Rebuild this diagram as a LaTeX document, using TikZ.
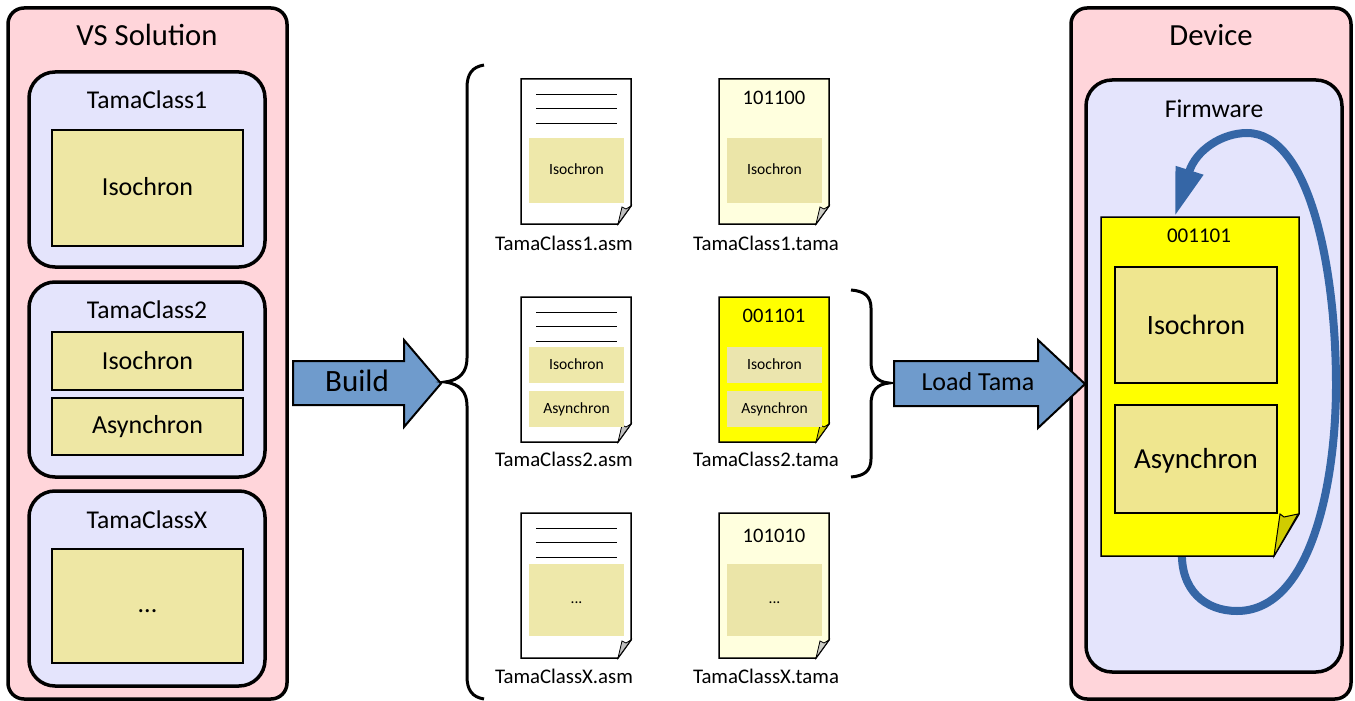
\documentclass[tikz,border=0pt]{standalone}
\usepackage{fontspec}
\setmainfont{Carlito}
\usetikzlibrary{arrows.meta}

\definecolor{outerpink}{HTML}{FFD5DA}
\definecolor{innerblue}{HTML}{E4E4FC}
\definecolor{khakibox}{HTML}{EEE7A4}
\definecolor{firmbox}{HTML}{EFE68F}
\definecolor{chunkbox}{HTML}{EEE8AA}
\definecolor{palebox}{HTML}{EBE5A8}
\definecolor{softbox}{HTML}{EBE5AE}
\definecolor{paletama}{HTML}{FFFFDE}
\definecolor{puretama}{HTML}{FFFF00}
\definecolor{foldtama}{HTML}{D0CC00}
\definecolor{arrowblue}{HTML}{6F9BCC}
\definecolor{loopblue}{HTML}{3566A6}

% #1 left, #2 top, #3 page colour, #4 fold colour
\newcommand{\docpage}[4]{
	\draw[line width=1.5pt, fill=#3, line join=miter]
		(#1, #2) -- (#1+110, #2) -- (#1+110, #2+127) -- (#1+97, #2+145) -- (#1, #2+145) -- cycle;
	\draw[line width=0.8pt, fill=#4]
		(#1+97, #2+145) -- (#1+101, #2+128) -- (#1+105, #2+130) -- (#1+110, #2+127) -- cycle;
}
\newcommand{\doclines}[2]{
	\draw[line width=1pt] (#1+15, #2+15) -- (#1+96, #2+15);
	\draw[line width=1pt] (#1+15, #2+29) -- (#1+96, #2+29);
	\draw[line width=1pt] (#1+15, #2+44) -- (#1+96, #2+44);
}

\begin{document}
\begin{tikzpicture}[x=1pt, y=-1pt,
	outerbox/.style={draw, line width=3.5pt, fill=outerpink, rounded corners=16pt, inner sep=0pt},
	innerbox/.style={draw, line width=3.5pt, fill=innerblue, rounded corners=26pt, inner sep=0pt},
	classbox/.style={draw, line width=2pt, fill=khakibox, inner sep=0pt, font=\fontsize{26}{30}\selectfont},
	chunk/.style={fill=#1, inner sep=0pt, minimum width=95pt, font=\fontsize{15.6}{18}\selectfont},
	chunk/.default=chunkbox,
	title/.style={font=\fontsize{30.7}{36}\selectfont},
	classname/.style={font=\fontsize{25.6}{30}\selectfont},
	filename/.style={font=\fontsize{20.8}{25}\selectfont},
	bits/.style={font=\fontsize{20.6}{25}\selectfont},
	blockarrow/.style={draw, line width=2pt, fill=arrowblue, line join=miter}
]
\useasboundingbox (0, 0) rectangle (1355, 701);

\node[outerbox, minimum width=279pt, minimum height=691pt] (solution) at (147.5, 353.5) {};
\node[title] (solutionname) at (147, 35) {VS Solution};

\node[innerbox, minimum width=236pt, minimum height=195pt] (class1) at (147, 169.5) {};
\node[classname] (class1name) at (147, 100) {TamaClass1};
\node[classbox, minimum width=191pt, minimum height=116pt] (class1iso) at (147.5, 188) {\raisebox{4pt}{Isochron}};

\node[innerbox, minimum width=236pt, minimum height=195pt] (class2) at (147, 379.5) {};
\node[classname] (class2name) at (147, 309.5) {TamaClass2};
\node[classbox, minimum width=191pt, minimum height=58pt] (class2iso) at (147.5, 361) {\raisebox{2pt}{Isochron}};
\node[classbox, minimum width=191pt, minimum height=57pt] (class2asy) at (147.5, 426.5) {Asynchron};

\node[innerbox, minimum width=236pt, minimum height=195pt] (classx) at (147, 588.5) {};
\node[classname] (classxname) at (147, 520) {TamaClassX};
\node[classbox, minimum width=191pt, minimum height=114pt] (classxdots) at (147.5, 606) {\smash{\raisebox{-6pt}{...}}};

\draw[blockarrow] (293, 361) -- (404, 361) -- (404, 340) -- (441, 383.5) -- (404, 427) -- (404, 405) -- (293, 405) -- cycle;
\node[font=\fontsize{31}{36}\selectfont] (buildname) at (357, 381) {Build};

\draw[line width=3pt] (484, 65) .. controls (472, 67) and (467, 74) .. (467, 88) -- (467, 358)
	.. controls (467, 372) and (460, 380) .. (445, 382)
	.. controls (460, 384) and (467, 392) .. (467, 406) -- (467, 676)
	.. controls (467, 690) and (472, 697) .. (484, 699);

\docpage{521}{79}{white}{lightgray}
\doclines{521}{79}
\node[chunk, minimum height=65pt] (asm1iso) at (576.5, 170.5) {\raisebox{2pt}{Isochron}};
\node[filename] (asm1name) at (564, 243) {TamaClass1.asm};

\docpage{719}{79}{paletama}{lightgray!80!paletama}
\node[bits] (tama1bits) at (774, 98) {101100};
\node[chunk=palebox, minimum height=65pt] (tama1iso) at (774.5, 170.5) {\raisebox{2pt}{Isochron}};
\node[filename] (tama1name) at (766, 243) {TamaClass1.tama};

\docpage{521}{297}{white}{lightgray}
\doclines{521}{297}
\node[chunk, minimum height=36pt] (asm2iso) at (576.5, 365) {\raisebox{1pt}{Isochron}};
\node[chunk, minimum height=36pt] (asm2asy) at (576.5, 409) {\raisebox{1pt}{Asynchron}};
\node[filename] (asm2name) at (564, 459.5) {TamaClass2.asm};

\docpage{719}{297}{puretama}{foldtama}
\node[bits] (tama2bits) at (774, 316) {001101};
\node[chunk=softbox, minimum height=36pt] (tama2iso) at (774.5, 365) {\raisebox{1pt}{Isochron}};
\node[chunk=softbox, minimum height=36pt] (tama2asy) at (774.5, 409) {\raisebox{1pt}{Asynchron}};
\node[filename] (tama2name) at (766, 459.5) {TamaClass2.tama};

\docpage{521}{513}{white}{lightgray}
\doclines{521}{513}
\node[chunk, minimum height=72pt] (asmxdots) at (576.5, 600) {\smash{\raisebox{-3pt}{...}}};
\node[filename] (asmxname) at (564, 676) {TamaClassX.asm};

\docpage{719}{513}{paletama}{lightgray!80!paletama}
\node[bits] (tamaxbits) at (774, 536) {101010};
\node[chunk=palebox, minimum height=72pt] (tamaxdots) at (774.5, 600) {\smash{\raisebox{-3pt}{...}}};
\node[filename] (tamaxname) at (766, 676) {TamaClassX.tama};

\draw[line width=3pt] (851, 290) .. controls (864, 291) and (871, 296) .. (871, 308) -- (871, 362)
	.. controls (871, 375) and (877, 382) .. (889, 383)
	.. controls (877, 384) and (871, 391) .. (871, 404) -- (871, 459)
	.. controls (871, 471) and (864, 476) .. (851, 477);

\node[outerbox, minimum width=280pt, minimum height=691pt] (device) at (1211, 353.5) {};
\node[title] (devicename) at (1211, 35) {Device};
\node[innerbox, minimum width=256pt, minimum height=592pt] (firmware) at (1214, 376) {};
\node[classname] (firmwarename) at (1214, 109) {Firmware};

\draw[blockarrow] (894, 361) -- (1038, 361) -- (1038, 340) -- (1085, 384) -- (1038, 428) -- (1038, 406) -- (894, 406) -- cycle;
\node[font=\fontsize{26}{30}\selectfont] (loadname) at (978, 382) {Load Tama};

\coordinate (loopstart) at (1182, 550);
\coordinate (loopend) at (1175, 216);
\draw[loopblue, line width=8pt, -{Triangle[length=48pt, width=27pt]}] (loopstart)
	.. controls (1180, 590) and (1205, 611) .. (1237, 611)
	.. controls (1312, 611) and (1336, 480) .. (1336, 385)
	.. controls (1336, 270) and (1310, 133) .. (1247, 133)
	.. controls (1222, 133) and (1196, 150) .. (loopend);

\draw[line width=1.5pt, fill=puretama] (1101, 217) -- (1299, 217) -- (1299, 514) -- (1274, 556) -- (1101, 556) -- cycle;
\draw[line width=1pt, fill=foldtama] (1274, 556) -- (1280, 514) -- (1284, 517) -- (1298, 514) -- cycle;
\node[font=\fontsize{21}{25}\selectfont] (fwbits) at (1199, 236) {001101};
\node[classbox, fill=firmbox, minimum width=162pt, minimum height=116pt, font=\fontsize{28}{34}\selectfont] (fwiso) at (1196, 325) {Isochron};
\node[classbox, fill=firmbox, minimum width=162pt, minimum height=108pt, font=\fontsize{29}{34}\selectfont] (fwasy) at (1196, 459) {\smash{\raisebox{-9pt}{Asynchron}}};
\end{tikzpicture}
\end{document}
